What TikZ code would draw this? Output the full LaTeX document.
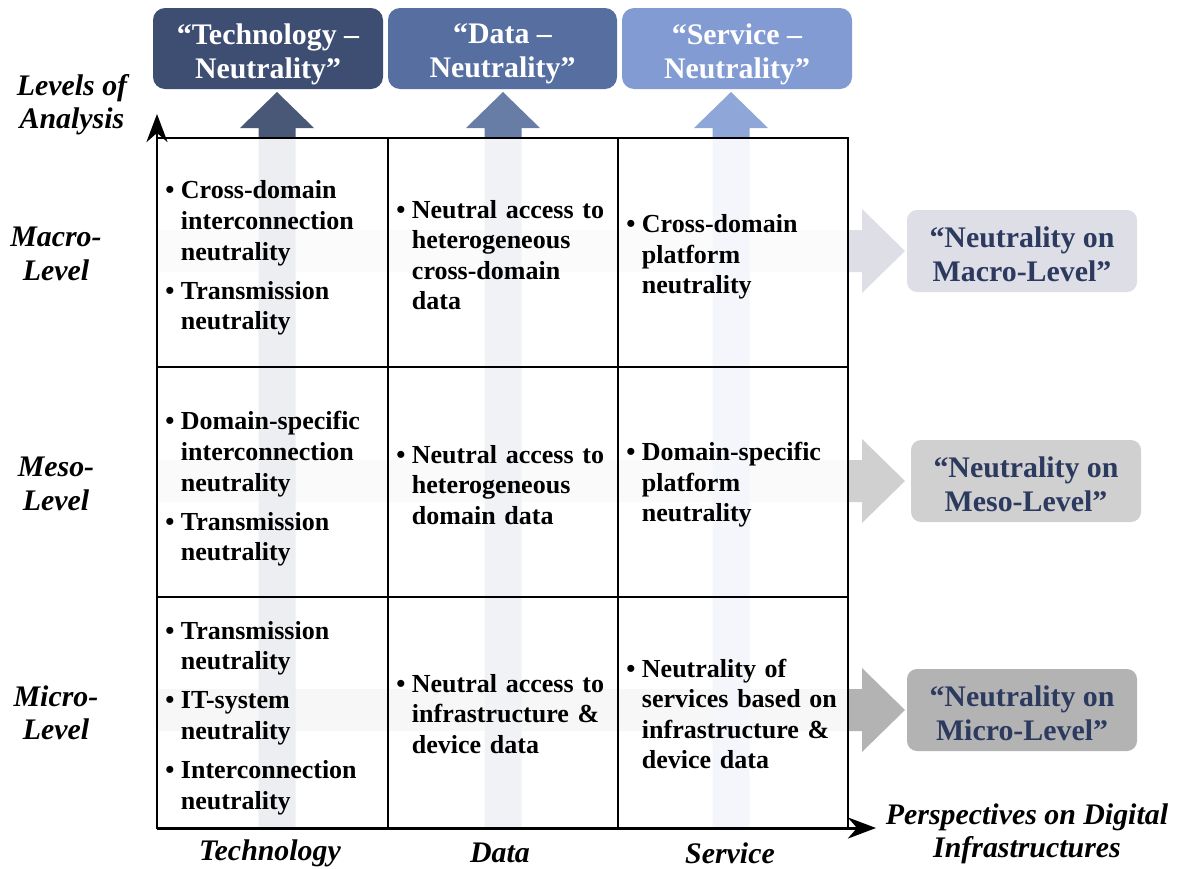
\documentclass[tikz,border=0pt]{standalone}
\usepackage{fontspec}
\setmainfont{Liberation Serif}
\usetikzlibrary{arrows.meta}

\definecolor{techblue}{HTML}{3E4D72}
\definecolor{datablue}{HTML}{566FA0}
\definecolor{servblue}{HTML}{829BD3}
\definecolor{techhead}{HTML}{4A5878}
\definecolor{datahead}{HTML}{687DA6}
\definecolor{servhead}{HTML}{8FA6D9}
\definecolor{macrogray}{HTML}{DDDEE6}
\definecolor{mesogray}{HTML}{D0D0D0}
\definecolor{microgray}{HTML}{B3B3B3}
\definecolor{levelnavy}{HTML}{2D3A5F}

\newcommand{\cellfont}{\fontsize{14.8}{17.4}\selectfont\bfseries\fontdimen2\font=0.19em\relax}
\newcommand{\boxfont}{\fontsize{17}{19.5}\selectfont\bfseries}
\newcommand{\axisfont}{\fontsize{17}{19}\selectfont\bfseries\itshape}
\newcommand{\bitem}[1]{\noindent\hangindent=0.6em\hangafter=1\makebox[0.6em][l]{\textbullet}#1\par}
\newcommand{\itemgap}{\vspace{4.8pt}}

\tikzset{
  cell/.style = {anchor=west, text width=4.3cm, align=left, inner sep=0pt, font=\cellfont},
  toptext/.style = {align=center, text=white, font=\boxfont, inner sep=0pt},
  leveltext/.style = {align=center, text=levelnavy, font=\boxfont, inner sep=0pt},
  axislabel/.style = {align=center, font=\axisfont, inner sep=0pt},
  gridline/.style = {line width=1.1pt},
  axis/.style = {line width=1.7pt, -{Stealth[length=16pt, width=12pt]}}
}

\begin{document}
\begin{tikzpicture}[x = 0.02cm, y = -0.02cm]
\useasboundingbox (0,0) rectangle (1181,869);

% block arrows to the right (levels)
\foreach \cy/\c in {251/macrogray, 481/mesogray, 710/microgray}
  \fill[\c] (157,\cy-21) -- (862,\cy-21) -- (862,\cy-42) -- (905,\cy)
            -- (862,\cy+42) -- (862,\cy+21) -- (157,\cy+21) -- cycle;

% block arrows upwards (perspectives)
\foreach \cx/\c in {277/techhead, 503/datahead, 731/servhead}
  \fill[\c] (\cx-18.5,828) -- (\cx-18.5,128) -- (\cx-37,128) -- (\cx,92)
            -- (\cx+37,128) -- (\cx+18.5,128) -- (\cx+18.5,828) -- cycle;

% the table lies over the arrows
\fill[white, opacity = 0.9] (157,138) rectangle (848,828);
\draw[gridline] (157,138) rectangle (848,828);
\draw[gridline] (388,138) -- (388,828) (618,138) -- (618,828);
\draw[gridline] (157,367) -- (848,367) (157,597) -- (848,597);

% top boxes
\fill[techblue, rounded corners = 0.24cm] (153,8) rectangle (383,89);
\fill[datablue, rounded corners = 0.24cm] (388,8) rectangle (617,89);
\fill[servblue, rounded corners = 0.24cm] (622,8) rectangle (852,89);
\node[toptext] (ttop) at (268,54) {“Technology –\\Neutrality”};
\node[toptext] (dtop) at (502.5,54) {“Data –\\Neutrality”};
\node[toptext] (stop) at (737,54) {“Service –\\Neutrality”};

% boxes on the right
\fill[macrogray, rounded corners = 0.2cm] (907,210) rectangle (1137,292);
\fill[mesogray, rounded corners = 0.2cm] (911,440) rectangle (1141,522);
\fill[microgray, rounded corners = 0.2cm] (907,669) rectangle (1137,751);
\node[leveltext] (macrobox) at (1022,254) {“Neutrality on\\Macro-Level”};
\node[leveltext] (mesobox) at (1026,484) {“Neutrality on\\Meso-Level”};
\node[leveltext] (microbox) at (1022,713) {“Neutrality on\\Micro-Level”};

% macro row
\node[cell] (tmacro) at (165,258) {\bitem{Cross-domain\newline interconnection\newline neutrality}\itemgap
  \bitem{Transmission\newline neutrality}};
\node[cell] (dmacro) at (396,255) {\bitem{Neutral access to\newline heterogeneous\newline cross-domain\newline data}};
\node[cell] (smacro) at (626,257) {\bitem{Cross-domain\newline platform\newline neutrality}};

% meso row
\node[cell] (tmeso) at (165,489) {\bitem{Domain-specific\newline interconnection\newline neutrality}\itemgap
  \bitem{Transmission\newline neutrality}};
\node[cell] (dmeso) at (396,485) {\bitem{Neutral access to\newline heterogeneous\newline domain data}};
\node[cell] (smeso) at (626,485) {\bitem{Domain-specific\newline platform\newline neutrality}};

% micro row
\node[cell] (tmicro) at (165,718) {\bitem{Transmission\newline neutrality}\itemgap
  \bitem{IT-system\newline neutrality}\itemgap
  \bitem{Interconnection\newline neutrality}};
\node[cell] (dmicro) at (396,714) {\bitem{Neutral access to\newline infrastructure \&\newline device data}};
\node[cell] (smicro) at (626,714) {\bitem{Neutrality of\newline services based on\newline infrastructure \&\newline device data}};

% axes
\coordinate (origin) at (157,828);
\coordinate (ytop) at (157,114);
\coordinate (xend) at (876,828);
\draw[axis] (origin) -- (ytop);
\draw[axis] (origin) -- (xend);

% axis labels
\node[axislabel] (levels) at (72,105) {Levels of\\Analysis};
\node[axislabel] (macro) at (56,254) {Macro-\\Level};
\node[axislabel] (meso) at (56,484) {Meso-\\Level};
\node[axislabel] (micro) at (56,713) {Micro-\\Level};
\node[axislabel] (tech) at (270,853) {Technology};
\node[axislabel] (data) at (500,853) {Data};
\node[axislabel] (serv) at (730,853) {Service};
\node[axislabel] (persp) at (1027,834) {Perspectives on Digital\\Infrastructures};
\end{tikzpicture}
\end{document}
